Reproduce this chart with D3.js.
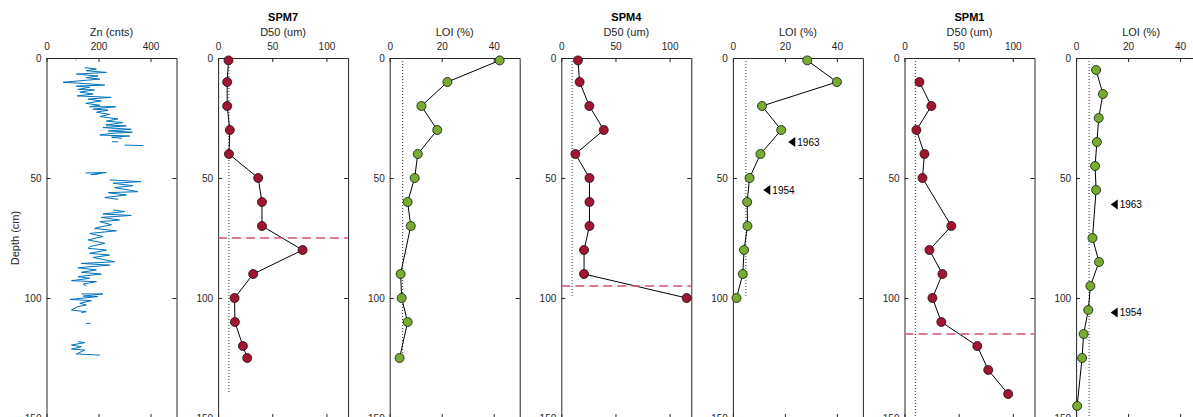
<!DOCTYPE html>
<html>
<head>
<meta charset="utf-8">
<script src="https://cdn.jsdelivr.net/npm/d3@7"></script>
<style>
    body { margin: 0; background: #fff; }
    svg { display: block; font-family: 'Liberation Sans', Arial, Helvetica, sans-serif; }
</style>
</head>
<body>
<svg id="chart"></svg>
<script>
// Zn XRF scan (SPM7), null = gap in the scan
const znDepth = [
    0.6, 0.9, null,
    4.0, 4.6, 5.3, 6.0, 6.7, 7.5, 8.2, 8.8, 10.1, 10.6, 11.3, 11.7, 12.2, 13.1, 13.3, 14.2, 15.0, 15.8,
    16.4, 17.1, 17.9, 18.9, 19.7, 20.3, 20.3, 21.3, 21.7, 22.6, 23.5, 24.4, 25.4, 26.3, 26.9, 27.9,
    28.3, 29.0, 29.7, 30.4, 30.9, 31.4, 32.1, 32.5, 33.0, 33.5, null,
    34.9, 34.9, null,
    36.3, 36.5, null,
    47.9, 47.7, 48.6, 48.4, null,
    50.8, 51.5, 52.2, 53.2, 54.0, 55.7, 56.1, 57.1, 58.1, 58.9, null,
    63.3, 64.0, 65.0, 65.6, 66.4, 67.5, 68.2, 69.5, 70.6, 71.0, 72.0, 73.1, 74.4, 75.8, 77.2, 78.6,
    79.3, 80.0, 81.4, 82.1, 83.1, 84.9, 85.6, 86.3, 87.4, 88.3, 89.3, 90.0, 91.1, 91.8, 92.8, 93.2,
    94.2, 95.0, null,
    98.3, 98.3, 99.2, 99.4, 100.6, 101.1, 102.2, 102.9, 103.6, 105.0, 105.7, 106.1, null,
    110.6, 110.6, null,
    118.2, 118.6, 119.6, 120.3, 121.3, 121.7, 123.3, 123.8
];
const znCounts = [
    112, 115, null,
    147, 192, 153, 230, 115, 198, 153, 205, 64, 141, 224, 115, 166, 121, 185, 128, 179, 118,
    249, 160, 211, 151, 205, 166, 266, 179, 237, 192, 243, 205, 275, 230, 294, 228,
    307, 217, 326, 237, 330, 248, 205, 320, 250, 290, null,
    252, 275, null,
    300, 373, null,
    150, 230, 170, 200, null,
    243, 364, 256, 332, 262, 352, 237, 307, 224, 275, null,
    256, 300, 217, 326, 211, 281, 205, 250, 198, 185, 269, 166, 217, 160, 224, 166,
    160, 230, 166, 243, 179, 262, 134, 243, 121, 192, 134, 211, 121, 166, 96, 192,
    141, 153, null,
    134, 217, 141, 198, 90, 173, 128, 153, 121, 96, 153, 134, null,
    153, 169, null,
    121, 147, 96, 134, 96, 147, 115, 205
];

// SPM7
const spm7Depth = [1, 10, 20, 30, 40, 50, 60, 70, 80, 90, 100, 110, 120, 125];
const spm7D50 = [9.6, 8.4, 8.4, 10.8, 10, 37, 40.5, 40.5, 78, 32.4, 15.2, 15.5, 22.9, 26.9];
const spm7LoiDepth = [1, 10, 20, 30, 40, 50, 60, 70, 90, 100, 110, 125];
const spm7Loi = [42.3, 22.2, 12.2, 18.3, 10.8, 9.6, 6.9, 8.1, 4.2, 4.6, 6.9, 3.8];

// SPM4
const spm4Depth = [1, 10, 20, 30, 40, 50, 60, 70, 80, 90, 100];
const spm4D50 = [15.4, 16.9, 25.9, 39.2, 13, 26, 26, 26, 21, 21, 115.7];
const spm4Loi = [28.6, 40, 11.2, 18.6, 10.6, 6.4, 5.5, 5.6, 4.3, 3.8, 1.4];

// SPM1
const spm1D50Depth = [10, 20, 30, 40, 50, 70, 80, 90, 100, 110, 120, 130, 140];
const spm1D50 = [13.8, 24.8, 11.0, 18.4, 16.6, 43.2, 23, 35, 25.8, 34, 67.2, 77.3, 95.7];
const spm1LoiDepth = [5, 15, 25, 35, 45, 55, 75, 85, 95, 105, 115, 125, 145];
const spm1Loi = [7.7, 10.3, 8.7, 8.0, 7.3, 7.7, 6.3, 8.8, 5.5, 4.7, 2.9, 2.3, 0.4];

// reference lines: [value, depth where the dotted line stops]
const d50Reference = [[10, 140], [10, 100], [10, 150]];
const loiReference = [[5, 125], [5, 100], [5, 150]];
const boundaryDepths = [75, 95, 115];

// dating horizons in the LOI panels of SPM4 and SPM1
const dateLabels = ['1963', '1954', '1963', '1954'];
const dateDepths = [35, 55, 61, 106];
const dateLoi = [21.3, 11.7, 13.3, 13.3];
const datePanels = [4, 4, 6, 6];

const coreNames = ['SPM7', 'SPM4', 'SPM1'];
const znTicks = [0, 200, 400];
const d50Ticks = [0, 50, 100];
const loiTicks = [0, 20, 40];
const depthTicks = [0, 50, 100, 150];

const width = 1193;
const height = 417;
const plotTop = 58;
const plotBottom = 418;
const panelLeft = 46.5;
const panelStep = 171.6;
const panelWidth = 130;

const axisColor = '#262626';
const red = '#A2142F';
const green = '#77AC30';

const svg = d3.select('#chart')
    .attr('width', width)
    .attr('height', height);

const y = d3.scaleLinear().domain([0, 150]).range([plotTop, plotBottom]);

// build panel list from the arrays above
const panels = [{ label: 'Zn (cnts)', domain: [0, 500], ticks: znTicks, zn: true }];
const coreSeries = [
    [spm7Depth, spm7D50, spm7LoiDepth, spm7Loi],
    [spm4Depth, spm4D50, spm4Depth, spm4Loi],
    [spm1D50Depth, spm1D50, spm1LoiDepth, spm1Loi]
];
coreNames.forEach((name, i) => {
    const s = coreSeries[i];
    panels.push({
        title: name, label: 'D50 (um)', domain: [0, 120], ticks: d50Ticks,
        depth: s[0], values: s[1], color: red, ref: d50Reference[i], boundary: boundaryDepths[i]
    });
    panels.push({
        label: 'LOI (%)', domain: [0, 50], ticks: loiTicks,
        depth: s[2], values: s[3], color: green, ref: loiReference[i]
    });
});

panels.forEach((p, i) => {
    const g = svg.append('g').attr('transform', `translate(${panelLeft + i * panelStep},0)`);
    const x = d3.scaleLinear().domain(p.domain).range([0, panelWidth]);
    p.x = x;
    p.g = g;

    // box with inward ticks
    g.append('g')
        .attr('transform', `translate(0,${plotTop})`)
        .call(d3.axisTop(x).tickValues(p.ticks).tickSizeInner(-4).tickSizeOuter(0).tickPadding(8));
    g.append('g')
        .attr('transform', `translate(0,${plotBottom})`)
        .call(d3.axisBottom(x).tickValues(p.ticks).tickSizeInner(-4).tickSizeOuter(0).tickFormat(''));
    g.append('g')
        .call(d3.axisLeft(y).tickValues(depthTicks).tickSizeInner(-4).tickSizeOuter(0).tickPadding(5));
    g.append('g')
        .attr('transform', `translate(${panelWidth},0)`)
        .call(d3.axisRight(y).tickValues(depthTicks).tickSizeInner(-4).tickSizeOuter(0).tickFormat(''));

    g.selectAll('.domain, .tick line').attr('stroke', axisColor);
    g.selectAll('.tick text').attr('fill', axisColor).attr('font-size', 10)
        .attr('font-family', 'Liberation Sans, Arial, sans-serif');

    g.append('text')
        .attr('x', panelWidth / 2)
        .attr('y', 35.5)
        .attr('text-anchor', 'middle')
        .attr('font-size', 11)
        .attr('fill', axisColor)
        .text(p.label);

    if (p.title) {
        g.append('text')
            .attr('x', panelWidth / 2)
            .attr('y', 21)
            .attr('text-anchor', 'middle')
            .attr('font-size', 11)
            .attr('font-weight', 'bold')
            .attr('fill', '#000')
            .text(p.title);
    }

    if (p.zn) {
        const pts = znDepth.map((d, k) => ({ d: d, v: znCounts[k] }));
        g.append('path')
            .datum(pts)
            .attr('fill', 'none')
            .attr('stroke', '#0072BD')
            .attr('stroke-width', 1)
            .attr('d', d3.line()
                .defined(q => q.v != null && q.d != null)
                .x(q => x(q.v))
                .y(q => y(q.d)));
        return;
    }

    // dotted reference line
    g.append('line')
        .attr('x1', x(p.ref[0])).attr('x2', x(p.ref[0]))
        .attr('y1', y(0)).attr('y2', y(p.ref[1]))
        .attr('stroke', '#333')
        .attr('stroke-width', 1)
        .attr('stroke-dasharray', '1,2');

    const pts = p.depth.map((d, k) => ({ d: d, v: p.values[k] }));
    g.append('path')
        .datum(pts)
        .attr('fill', 'none')
        .attr('stroke', '#000')
        .attr('stroke-width', 1)
        .attr('d', d3.line().x(q => x(q.v)).y(q => y(q.d)));

    g.selectAll('circle.pt')
        .data(pts)
        .enter()
        .append('circle')
        .attr('class', 'pt')
        .attr('cx', q => x(q.v))
        .attr('cy', q => y(q.d))
        .attr('r', 4.5)
        .attr('fill', p.color)
        .attr('stroke', '#111')
        .attr('stroke-width', 0.8);

    if (p.boundary != null) {
        g.append('line')
            .attr('x1', 0).attr('x2', panelWidth)
            .attr('y1', y(p.boundary)).attr('y2', y(p.boundary))
            .attr('stroke', '#d4506b')
            .attr('stroke-width', 1.3)
            .attr('stroke-dasharray', '9,5');
    }
});

// dating markers
dateLabels.forEach((label, k) => {
    const p = panels[datePanels[k]];
    const mx = p.x(dateLoi[k]);
    const my = y(dateDepths[k]);
    const mg = p.g.append('g').attr('transform', `translate(${mx},${my})`);
    mg.append('path')
        .attr('d', 'M0,0L7,-5L7,5Z')
        .attr('fill', '#000');
    mg.append('text')
        .attr('x', 9)
        .attr('dy', '0.35em')
        .attr('font-size', 10)
        .attr('fill', '#000')
        .text(label);
});

// y axis title
svg.append('text')
    .attr('transform', `translate(15,${(plotTop + plotBottom) / 2}) rotate(-90)`)
    .attr('text-anchor', 'middle')
    .attr('dy', '0.35em')
    .attr('font-size', 11)
    .attr('fill', axisColor)
    .text('Depth (cm)');
</script>
</body>
</html>
